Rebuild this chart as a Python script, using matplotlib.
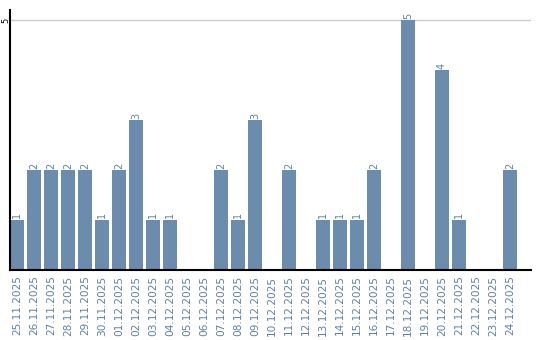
import matplotlib
matplotlib.use("Agg")
import matplotlib.pyplot as plt

dates = ["25.11.2025","26.11.2025","27.11.2025","28.11.2025","29.11.2025","30.11.2025",
         "01.12.2025","02.12.2025","03.12.2025","04.12.2025","05.12.2025","06.12.2025",
         "07.12.2025","08.12.2025","09.12.2025","10.12.2025","11.12.2025","12.12.2025",
         "13.12.2025","14.12.2025","15.12.2025","16.12.2025","17.12.2025","18.12.2025",
         "19.12.2025","20.12.2025","21.12.2025","22.12.2025","23.12.2025","24.12.2025"]
values = [1,2,2,2,2,1,2,3,1,1,0,0,2,1,3,0,2,0,1,1,1,2,0,5,0,4,1,0,0,2]

bar_color = "#6b8cad"
label_color = "#5f80a6"

fig = plt.figure(figsize=(5.4, 3.4), dpi=100)
ax = fig.add_axes([10/540, 70/340, 521/540, 260/340])
x = list(range(len(dates)))
bars = ax.bar(x, values, width=14/17, color=bar_color, zorder=2)
for xi, v in zip(x, values):
    if v > 0:
        ax.text(xi, v + 0.03, str(v), rotation=90, ha="center", va="bottom",
                fontsize=7, color=label_color)
ax.set_xlim(-0.41, 30.24)
ax.set_ylim(0, 5.2)
ax.set_yticks([5])
ax.set_yticklabels(["5"], rotation=90, va="center", ha="center", fontsize=6)
ax.axhline(5, color="#cccccc", lw=1, zorder=1)
ax.set_xticks(x)
ax.set_xticklabels(dates, rotation=90, fontsize=7.6, color=label_color)
ax.tick_params(axis="x", length=0, pad=4)
ax.tick_params(axis="y", length=0, pad=3)
for s in ["top", "right"]:
    ax.spines[s].set_visible(False)
ax.spines["left"].set_color("black")
ax.spines["bottom"].set_color("black")
ax.spines["left"].set_linewidth(1.5)
ax.spines["bottom"].set_linewidth(1.5)
fig.savefig("out.png", dpi=100)
